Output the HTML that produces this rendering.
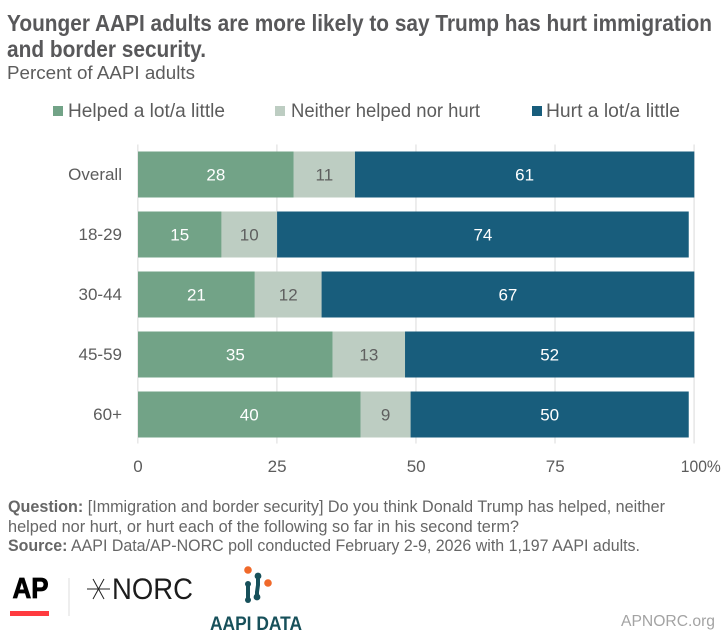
<!DOCTYPE html>
<html>
<head>
<meta charset="utf-8">
<style>
html,body{margin:0;padding:0;background:#fff;width:726px;height:634px;overflow:hidden}
svg{display:block;font-family:"Liberation Sans",sans-serif}
</style>
</head>
<body>
<svg id="chart" width="726" height="634" viewBox="0 0 726 634" xmlns="http://www.w3.org/2000/svg">
<text x="7" y="31" font-size="23" font-weight="700" fill="#58585a" textLength="705" lengthAdjust="spacingAndGlyphs">Younger AAPI adults are more likely to say Trump has hurt immigration</text>
<text x="7" y="57" font-size="23" font-weight="700" fill="#58585a" textLength="199" lengthAdjust="spacingAndGlyphs">and border security.</text>
<text x="7" y="79" font-size="18.5" fill="#5c5c5c" textLength="188" lengthAdjust="spacingAndGlyphs">Percent of AAPI adults</text>

<g>
<rect x="53" y="106" width="10" height="10" fill="#72a387"/>
<text x="68" y="117" font-size="19.5" fill="#5c5c5c" textLength="157" lengthAdjust="spacingAndGlyphs">Helped a lot/a little</text>
<rect x="275" y="106" width="10" height="10" fill="#bdcdc2"/>
<text x="291" y="117" font-size="19.5" fill="#5c5c5c" textLength="189" lengthAdjust="spacingAndGlyphs">Neither helped nor hurt</text>
<rect x="532" y="106" width="10" height="10" fill="#185d7c"/>
<text x="546" y="117" font-size="19.5" fill="#5c5c5c" textLength="134" lengthAdjust="spacingAndGlyphs">Hurt a lot/a little</text>
</g>

<g id="grid"></g>
<g id="bars"></g>
<g id="cats"></g>
<g id="ticks"></g>

<g font-size="16.5" fill="#666666">
<text x="8" y="512" textLength="657" lengthAdjust="spacingAndGlyphs"><tspan font-weight="700">Question:</tspan> [Immigration and border security] Do you think Donald Trump has helped, neither</text>
<text x="8" y="532" textLength="511" lengthAdjust="spacingAndGlyphs">helped nor hurt, or hurt each of the following so far in his second term?</text>
<text x="8" y="551" textLength="632" lengthAdjust="spacingAndGlyphs"><tspan font-weight="700">Source:</tspan> AAPI Data/AP-NORC poll conducted February 2-9, 2026 with 1,197 AAPI adults.</text>
</g>

<g>
<text x="12.5" y="598" font-size="29" font-weight="700" fill="#000" stroke="#000" stroke-width="0.8" textLength="36" lengthAdjust="spacingAndGlyphs">AP</text>
<rect x="10" y="611" width="39" height="5" fill="#ff3b3f"/>
</g>
<rect x="68.5" y="578" width="1" height="38" fill="#dddddd"/>
<g>
<g stroke="#222" stroke-width="1">
<line x1="87" y1="589" x2="110" y2="589"/>
<line x1="93" y1="579" x2="104" y2="599"/>
<line x1="104" y1="579" x2="93" y2="599"/>
</g>
<text x="112" y="599" font-size="30" fill="#1c1c1c" textLength="81" lengthAdjust="spacingAndGlyphs">NORC</text>
</g>
<g>
<g>
<circle cx="248" cy="570" r="3.8" fill="#f0692a"/>
<circle cx="268" cy="583" r="3.8" fill="#f0692a"/>
<path d="M258 576 L258 585 L257 592 L257 597" stroke="#17505a" stroke-width="4" fill="none" stroke-linecap="round"/>
<circle cx="258" cy="576" r="3.4" fill="#17505a"/>
<circle cx="257" cy="597" r="3.4" fill="#17505a"/>
<path d="M248 584 L248 600" stroke="#17505a" stroke-width="4" fill="none" stroke-linecap="round"/>
<circle cx="248" cy="584" r="3" fill="#17505a"/>
<circle cx="248" cy="600" r="3" fill="#17505a"/>
</g>
<text x="210" y="630" font-size="19.5" font-weight="700" fill="#17505a" textLength="92" lengthAdjust="spacingAndGlyphs">AAPI DATA</text>
</g>
<text x="621" y="626" font-size="16" fill="#a3a3a3" textLength="94" lengthAdjust="spacingAndGlyphs">APNORC.org</text>
</svg>
<script>
var categories = ["Overall", "18-29", "30-44", "45-59", "60+"];
var helped = [28, 15, 21, 35, 40];
var neither = [11, 10, 12, 13, 9];
var hurt = [61, 74, 67, 52, 50];
var tickValues = [0, 25, 50, 75, 100];
var tickLabels = ["0", "25", "50", "75", "100%"];

var NS = "http://www.w3.org/2000/svg";
function xScale(v) { return 138 + v * 5.563; }
function yBand(i) { return 151.5 + i * 60; }
var bandHeight = 46;

function make(tag, parent, attrs) {
  var el = document.createElementNS(NS, tag);
  for (var k in attrs) { el.setAttribute(k, attrs[k]); }
  parent.appendChild(el);
  return el;
}

var gridG = document.getElementById("grid");
var tickG = document.getElementById("ticks");
tickValues.forEach(function (t, i) {
  var line = make("rect", gridG, { x: xScale(t) - 1, y: 144.5, width: 1.6, height: 299, fill: "#e8e8e8" });
  
  
  var isLast = i === tickValues.length - 1;
  var label = make("text", tickG, { x: isLast ? xScale(t) + 26.5 : xScale(t), y: 472, "font-size": 17, fill: "#5c5c5c", "text-anchor": isLast ? "end" : "middle" });
  
  
  if (isLast) { label.setAttribute("textLength", 40); label.setAttribute("lengthAdjust", "spacingAndGlyphs"); }
  label.textContent = tickLabels[i];
});

var barsG = document.getElementById("bars");
var catsG = document.getElementById("cats");
var seriesValues = [helped, neither, hurt];
var seriesFill = ["#72a387", "#bdcdc2", "#185d7c"];
var labelFill = ["#ffffff", "#5f5f5f", "#ffffff"];
categories.forEach(function (cat, i) {
  var y = yBand(i);
  var cl = make("text", catsG, { x: 122, y: y + 28.5, "font-size": 17, fill: "#5c5c5c", "text-anchor": "end" });
  
  
  cl.textContent = cat;
  var cum = 0;
  seriesValues.forEach(function (vals, s) {
    var v = vals[i];
    var x0 = xScale(cum);
    var x1 = xScale(cum + v);
    var r = make("rect", barsG, { x: x0, y: y, width: x1 - x0, height: bandHeight, fill: seriesFill[s] });
    
    
    var t = make("text", barsG, { x: (x0 + x1) / 2, y: y + 29, "font-size": 17, fill: labelFill[s], "text-anchor": "middle" });
    
    
    t.textContent = v;
    cum += v;
  });
});
</script>
</body>
</html>
